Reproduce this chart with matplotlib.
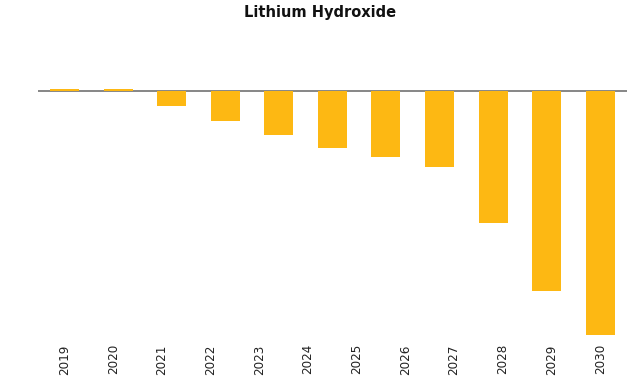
import numpy as np
import matplotlib
matplotlib.use('Agg')
import matplotlib.pyplot as plt

# years shown under the chart and the bar values
years = ['2019', '2020', '2021', '2022', '2023', '2024',
         '2025', '2026', '2027', '2028', '2029', '2030']
values = [2.5, 2.5, -15, -29.5, -44, -56.5, -66, -76, -132, -200, -244]

fig = plt.figure(figsize=(6.4, 3.88), dpi=100)
ax = fig.add_axes([37.7 / 640, 48 / 388, 589.3 / 640, 260 / 388])

x = np.arange(len(values))
ax.bar(x, values, width=0.54, color='#FDB813', zorder=3)
ax.axhline(0, color='#666666', linewidth=1.1, zorder=2)

ax.set_xlim(-0.5, len(values) - 0.5)
ax.set_ylim(-249, 11)

# labels are spread evenly over the bars
ax.set_xticks(np.linspace(0, len(values) - 1, len(years)))
ax.set_xticklabels(years, rotation=90, fontsize=9.5, fontstretch='condensed',
                   family='DejaVu Sans', color='#222222')
ax.tick_params(axis='x', length=0, pad=3)
ax.set_yticks([])
for s in ax.spines.values():
    s.set_visible(False)

fig.text(0.5, 1 - 13 / 388, 'Lithium Hydroxide', ha='center', va='center',
         fontsize=10.5, fontweight='bold', color='#111111')

fig.savefig('out.png', dpi=100)
